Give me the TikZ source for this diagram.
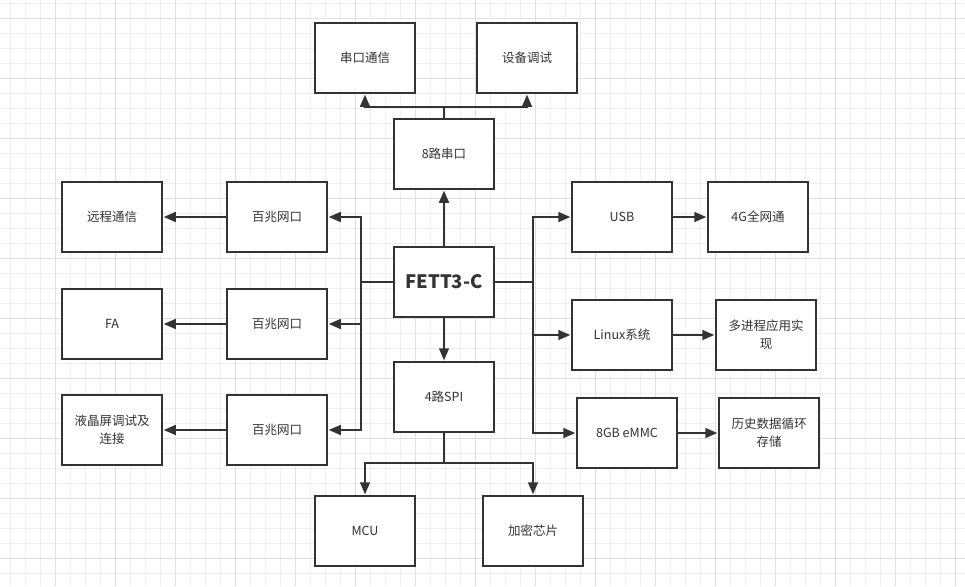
\documentclass[tikz,border=0pt]{standalone}
\usepackage{fontspec}
\setmainfont{Noto Sans CJK SC}
\usetikzlibrary{arrows.meta}
\definecolor{ink}{HTML}{333333}
\definecolor{gminor}{HTML}{EFEFEF}
\definecolor{gmajor}{HTML}{E0E0E0}
\tikzset{
  blk/.style={draw=ink, line width=1.5pt, fill=white, minimum width=100pt, minimum height=70pt,
    inner sep=2pt, align=center, text=ink, font=\fontsize{12.5}{18}\selectfont},
  bigblk/.style={blk, font=\fontsize{18.5}{22}\selectfont\bfseries},
  wire/.style={draw=ink, line width=1.5pt},
  arr/.style={wire, -{Triangle[length=12pt,width=10pt]}, shorten >=1pt},
}
\begin{document}
\begin{tikzpicture}[x=1pt,y=-1pt]
\useasboundingbox (0,0) rectangle (965,586);
\fill[white] (0,0) rectangle (965,586);
% grid
\foreach \i in {0,...,63} {\draw[gminor, line width=0.8pt] ({10+15*\i},0) -- ({10+15*\i},586);}
\foreach \j in {0,...,38} {\draw[gminor, line width=0.8pt] (0,{3.3+15*\j}) -- (965,{3.3+15*\j});}
\foreach \i in {0,...,15} {\draw[gmajor, line width=0.8pt] ({55+60*\i},0) -- ({55+60*\i},586);}
\foreach \j in {0,...,9} {\draw[gmajor, line width=0.8pt] (0,{18.3+60*\j}) -- (965,{18.3+60*\j});}

% nodes
\node[blk] (s1) at (365,58) {串口通信};
\node[blk] (s2) at (527,58) {设备调试};
\node[blk] (ser) at (444,154) {8路串口};
\node[bigblk] (fet) at (444,282) {FETT3-C};
\node[blk] (spi) at (444,397) {4路SPI};
\node[blk] (mcu) at (365,531) {MCU};
\node[blk] (enc) at (533,531) {加密芯片};
\node[blk] (n1) at (277,217) {百兆网口};
\node[blk] (n2) at (277,324) {百兆网口};
\node[blk] (n3) at (277,430) {百兆网口};
\node[blk] (r1) at (112,217) {远程通信};
\node[blk] (fa) at (112,324) {FA};
\node[blk] (lcd) at (112,430) {液晶屏调试及\\连接};
\node[blk] (usb) at (622,217) {USB};
\node[blk] (g4) at (758,217) {4G全网通};
\node[blk] (linux) at (622,335) {Linux系统};
\node[blk] (mp) at (766,335) {多进程应用实\\现};
\node[blk] (emmc) at (627,433) {8GB eMMC};
\node[blk] (hist) at (769,433) {历史数据循环\\存储};

\coordinate (sj) at (444,107);
\coordinate (pj) at (444,463);
\coordinate (lb) at (361,282);
\coordinate (rb) at (533,282);

% connectors
\draw[wire] (ser.north) -- (sj);
\draw[arr] (sj) -| (s1.south);
\draw[arr] (sj) -| (s2.south);
\draw[arr] (fet.north) -- (ser.south);
\draw[arr] (fet.south) -- (spi.north);
\draw[wire] (spi.south) -- (pj);
\draw[arr] (pj) -| (mcu.north);
\draw[arr] (pj) -| (enc.north);
\draw[wire] (fet.west) -- (lb);
\draw[arr] (lb) |- (n1.east);
\draw[arr] (lb) |- (n2.east);
\draw[arr] (lb) |- (n3.east);
\draw[wire] (fet.east) -- (rb);
\draw[arr] (rb) |- (usb.west);
\draw[arr] (rb) |- (linux.west);
\draw[arr] (rb) |- (emmc.west);
\draw[arr] (n1.west) -- (r1.east);
\draw[arr] (n2.west) -- (fa.east);
\draw[arr] (n3.west) -- (lcd.east);
\draw[arr] (usb.east) -- (g4.west);
\draw[arr] (linux.east) -- (mp.west);
\draw[arr] (emmc.east) -- (hist.west);
\end{tikzpicture}
\end{document}
